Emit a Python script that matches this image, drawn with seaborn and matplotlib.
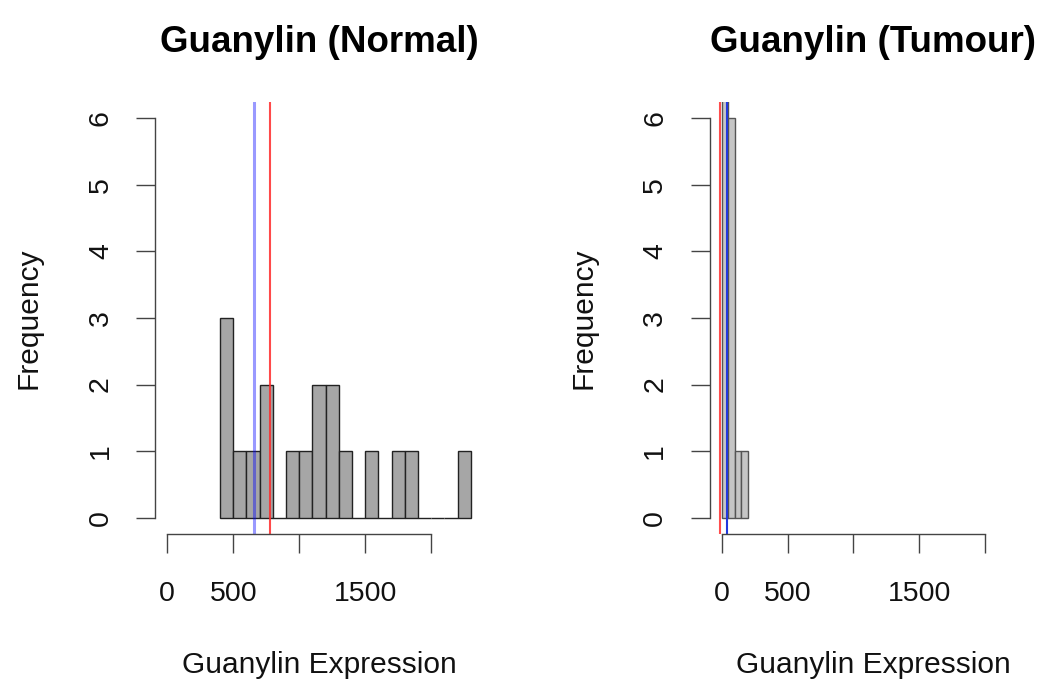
import numpy as np
import matplotlib
matplotlib.use("Agg")
import matplotlib.pyplot as plt
import seaborn as sns

# Histogram data (counts per bin)
normal_start = 400
normal_width = 100
normal_counts = [3, 1, 1, 2, 0, 1, 1, 2, 2, 1, 0, 1, 0, 1, 1, 0, 0, 0, 1]

tumour_start = 0
tumour_width = 50
tumour_counts = [10, 6, 1, 1]   # first bin runs off the top of the plot

# reference lines (blue / red) for each group
normal_blue = 660
normal_red = 775
tumour_blue = 42
tumour_red = -15

x_ticks = [0, 500, 1000, 1500, 2000]
x_tick_labels = ["0", "500", "", "1500", ""]
y_ticks = [0, 1, 2, 3, 4, 5, 6]

sns.set_theme(style="white")
plt.rcParams["font.family"] = ["Liberation Sans", "DejaVu Sans"]

fig = plt.figure(figsize=(10.42, 6.83), dpi=100)
ax1 = fig.add_axes([0.1489, 0.2186, 0.3146, 0.6316])
ax2 = fig.add_axes([0.6810, 0.2186, 0.3139, 0.6316])


def edges(start, width, n):
    return [start + width * i for i in range(n + 1)]


def mids(start, width, n):
    return [start + width * (i + 0.5) for i in range(n)]


def draw_hist(ax, start, width, counts, fill, edge):
    n = len(counts)
    sns.histplot(x=mids(start, width, n), weights=counts, bins=edges(start, width, n),
                 color=fill, edgecolor=edge, linewidth=1, alpha=1, ax=ax)


def style_axes(ax, title):
    ax.set_xlim(-92, 2392)
    ax.set_ylim(-0.24, 6.24)
    for s in ["top", "right"]:
        ax.spines[s].set_visible(False)
    for s in ["left", "bottom"]:
        ax.spines[s].set_color("#444444")
        ax.spines[s].set_linewidth(1)
    ax.spines["left"].set_bounds(0, 6)
    ax.spines["bottom"].set_bounds(0, 2000)
    ax.set_xticks(x_ticks)
    ax.set_xticklabels(x_tick_labels)
    ax.set_yticks(y_ticks)
    ax.set_yticklabels([str(v) for v in y_ticks])
    ax.tick_params(axis="both", direction="out", length=13.7, width=1, color="#444444",
                   labelsize=20.5, labelcolor="#111111", bottom=True, left=True)
    ax.tick_params(axis="x", pad=20)
    ax.tick_params(axis="y", pad=16, labelrotation=90)
    for lab in ax.get_yticklabels():
        lab.set_va("center")
    ax.set_title(title, fontsize=26.5, fontweight="bold", y=1.12, va="center", color="black")
    ax.set_xlabel("Guanylin Expression", fontsize=21.5, color="#111111")
    ax.set_ylabel("Frequency", fontsize=21.5, color="#111111")
    ax.xaxis.set_label_coords(0.5, -0.304)
    ax.xaxis.label.set_va("center")
    ax.yaxis.set_label_coords(-0.386, 0.5)
    ax.yaxis.label.set_va("center")
    ax.grid(False)


# Normal
draw_hist(ax1, normal_start, normal_width, normal_counts, "#a6a6a6", "#222222")
ax1.axvline(normal_blue, color="blue", alpha=0.4, lw=2.2)
ax1.axvline(normal_red, color="#ff2a2a", alpha=0.85, lw=1.5)
style_axes(ax1, "Guanylin (Normal)")

# Tumour
draw_hist(ax2, tumour_start, tumour_width, tumour_counts, "#c6c6c6", "#555555")
ax2.axvline(tumour_red, color="#ff4d4d", lw=1.5)
ax2.axvline(tumour_blue, color="#2238dd", lw=1.5)
style_axes(ax2, "Guanylin (Tumour)")

fig.savefig("out.png", dpi=100)
